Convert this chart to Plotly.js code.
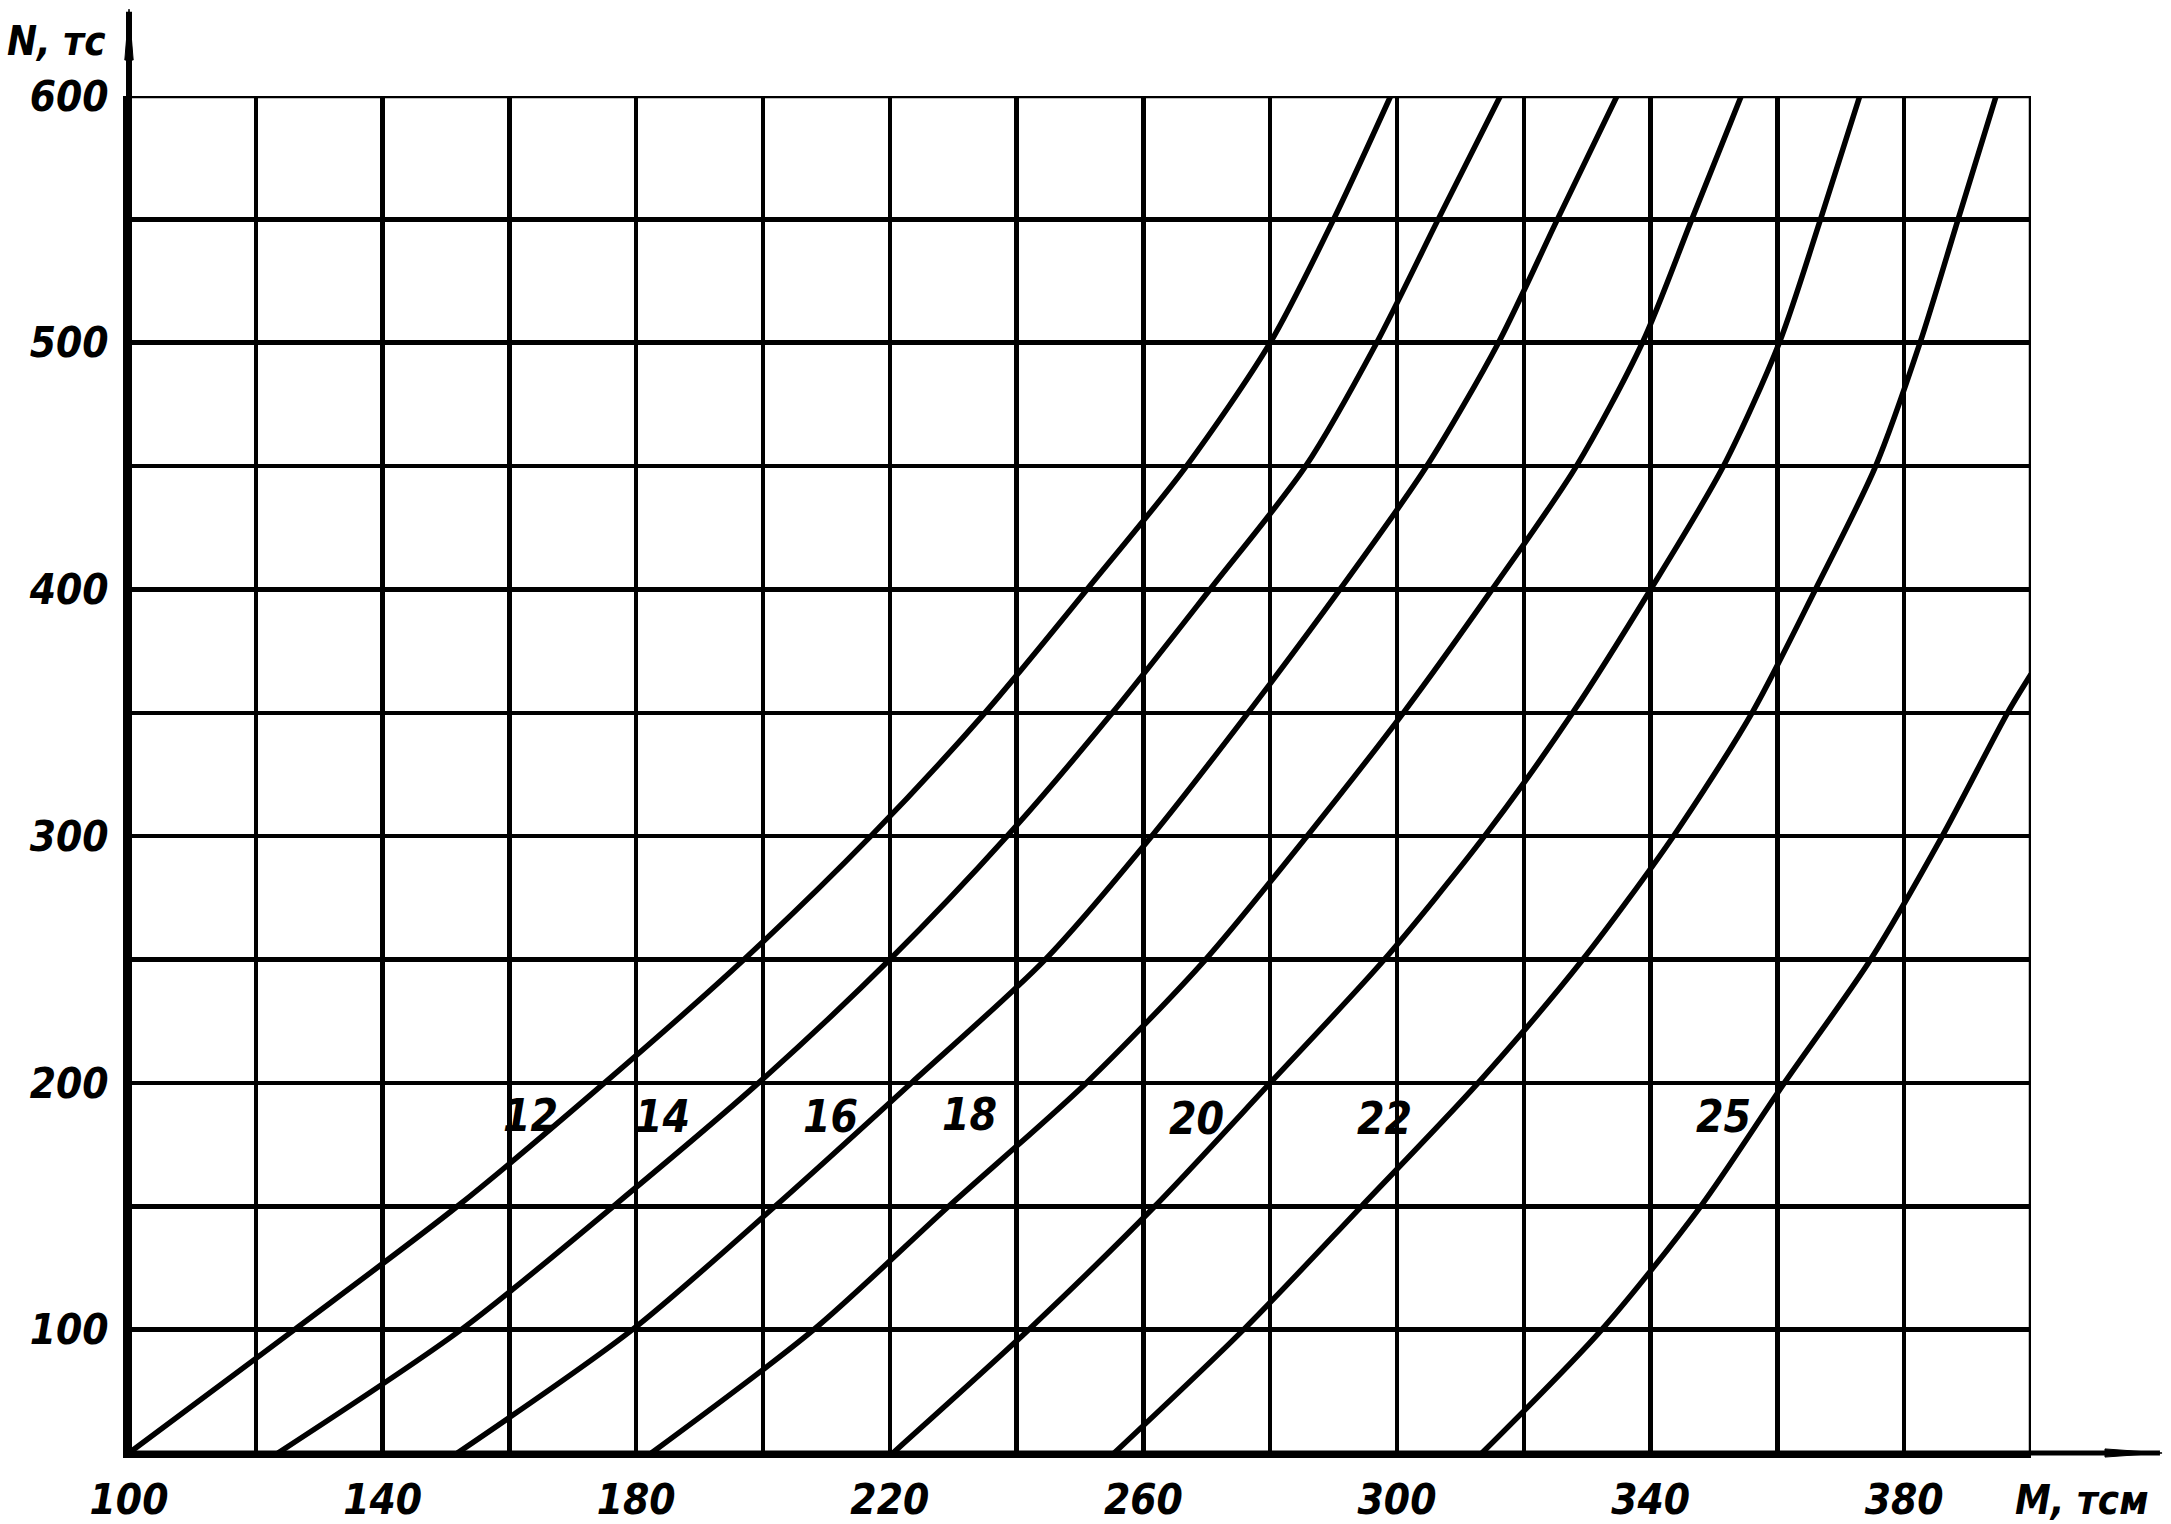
<!DOCTYPE html>
<html>
<head>
<meta charset="utf-8">
<script src="https://cdn.plot.ly/plotly-3.0.1.min.js"></script>
<style>
html,body{margin:0;padding:0;background:#ffffff;}
#chart{width:2171px;height:1524px;}
</style>
</head>
<body>
<div id="chart"></div>
<script>
// N levels (тс) at which each curve's M (тс·м) was read
const nLevels = [50, 100, 150, 200, 250, 300, 350, 400, 450, 500, 550, 600];
const m12 = [100, 126.1, 151.8, 175, 197, 217, 235, 251.1, 266.8, 280, 290, 299];
const m14 = [123.5, 152.4, 176.4, 199.3, 220, 238.5, 255.1, 270.5, 285.6, 296.8, 306.5, 316.3];
const m16 = [151.8, 179.4, 201.9, 223.4, 244.5, 261.3, 276.5, 291, 304.7, 316, 325.3, 334.7];
const m18 = [182.4, 208, 229.3, 251, 269.8, 285.8, 301, 315, 328.3, 338.7, 346.5, 354.3];
const m20 = [220.5, 241.9, 261.8, 280, 298, 313.8, 327.7, 340, 351.5, 360.3, 366.8, 373];
const m22 = [255.4, 275.8, 294.4, 312.8, 329.3, 343.6, 356, 366, 375.5, 382.5, 388.5, 394.5];
const m25 = [313.4, 332.3, 347.9, 361.1, 374.7, 386, 396.3, 400];
const n25 = [50, 100, 150, 200, 250, 300, 350, 365.6];

const curveNames = ['12', '14', '16', '18', '20', '22', '25'];
const labelM = [163.3, 184.2, 210.7, 232.6, 268.3, 298.1, 351.5];
const labelN = [186.8, 186.2, 186.4, 187, 185.5, 185.5, 186.5];

const xTickVals = [100,120,140,160,180,200,220,240,260,280,300,320,340,360,380,400];
const xTickText = ['100','','140','','180','','220','','260','','300','','340','','380',''];
const yTickVals = [50,100,150,200,250,300,350,400,450,500,550,600];
const yTickText = ['','100','','200','','300','','400','','500','','600'];

const xTitle = 'M, тсм';
const yTitle = 'N, тс';

const FONT = "'Liberation Sans Narrow', 'DejaVu Sans Condensed', 'DejaVu Sans', sans-serif";

const curvesM = [m12, m14, m16, m18, m20, m22, m25];
const traces = curvesM.map((m, i) => ({
  type: 'scatter',
  mode: 'lines',
  x: m,
  y: i === 6 ? n25 : nLevels,
  name: curveNames[i],
  line: {color: '#000', width: 5.5, shape: 'spline', smoothing: 0.8},
  hoverinfo: 'skip'
}));

const annotations = curveNames.map((t, i) => ({
  x: labelM[i], y: labelN[i], xref: 'x', yref: 'y',
  text: t, showarrow: false,
  font: {family: FONT, size: 44, color: '#000', weight: 'bold', style: 'italic'},
  xanchor: 'center', yanchor: 'middle'
}));
annotations.push({
  x: -0.0379, y: 1.0405, xref: 'paper', yref: 'paper',
  text: yTitle, showarrow: false,
  font: {family: FONT, size: 40, color: '#000', weight: 'bold', style: 'italic'},
  xanchor: 'center', yanchor: 'middle'
});
annotations.push({
  x: 1.0268, y: -0.0346, xref: 'paper', yref: 'paper',
  text: xTitle, showarrow: false,
  font: {family: FONT, size: 40, color: '#000', weight: 'bold', style: 'italic'},
  xanchor: 'center', yanchor: 'middle'
});

const shapes = [
  {type: 'line', xref: 'paper', yref: 'y', x0: 0, x1: 1, y0: 600, y1: 600, line: {color: '#000', width: 4.5}},
  {type: 'line', xref: 'x', yref: 'paper', x0: 400, x1: 400, y0: 0, y1: 1, line: {color: '#000', width: 4.5}},
  {type: 'line', xref: 'paper', yref: 'paper', x0: 0, x1: 0, y0: 0, y1: 1.062, line: {color: '#000', width: 6}},
  {type: 'line', xref: 'paper', yref: 'paper', x0: 0, x1: 1.0678, y0: 0, y1: 0, line: {color: '#000', width: 5}},
  {type: 'path', xref: 'paper', yref: 'paper', path: 'M 1.0389 0.0030 L 1.0689 0 L 1.0389 -0.0030 Z', fillcolor: '#000', line: {color: '#000', width: 1}},
  {type: 'path', xref: 'paper', yref: 'paper', path: 'M -0.0022 1.0265 L 0 1.064 L 0.0022 1.0265 Z', fillcolor: '#000', line: {color: '#000', width: 1}}
];

const layout = {
  width: 2171, height: 1524,
  paper_bgcolor: '#fff', plot_bgcolor: '#fff',
  margin: {l: 129, r: 140, t: 96, b: 71},
  showlegend: false,
  xaxis: {
    range: [100, 400], tickmode: 'array', tickvals: xTickVals, ticktext: xTickText,
    showgrid: true, gridcolor: '#000', gridwidth: 4.5, zeroline: false,
    showline: true, linecolor: '#000', linewidth: 5, ticks: '',
    ticklabelstandoff: 6,
    tickfont: {family: FONT, size: 42, color: '#000', weight: 'bold', style: 'italic'}
  },
  yaxis: {
    range: [50, 600], tickmode: 'array', tickvals: yTickVals, ticktext: yTickText,
    showgrid: true, gridcolor: '#000', gridwidth: 4.5, zeroline: false,
    showline: true, linecolor: '#000', linewidth: 6, ticks: '',
    ticklabelstandoff: 6,
    tickfont: {family: FONT, size: 42, color: '#000', weight: 'bold', style: 'italic'}
  },
  annotations: annotations,
  shapes: shapes
};

Plotly.newPlot('chart', traces, layout, {displayModeBar: false, staticPlot: true});
</script>
</body>
</html>
